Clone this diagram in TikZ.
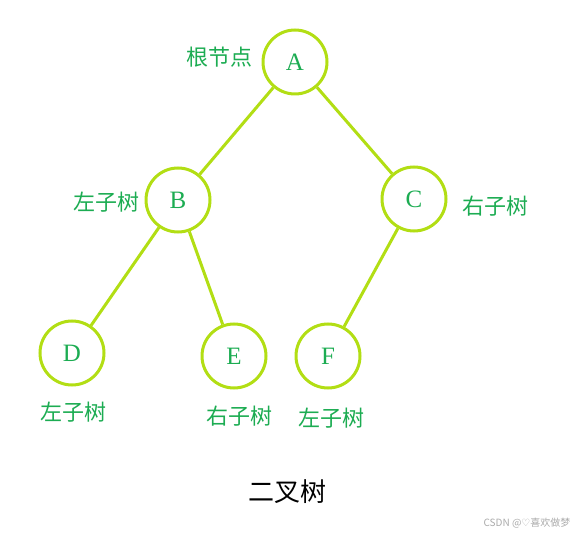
\documentclass[tikz,border=0pt]{standalone}
\usepackage{fontspec}
\usepackage{tikz}
\setmainfont{Liberation Serif}
\newfontfamily\cjk{Noto Sans CJK SC}
\newfontfamily\symf{DejaVu Sans}
\definecolor{leaf}{RGB}{178,222,20}
\definecolor{grn}{RGB}{28,172,82}
\definecolor{mark}{RGB}{170,170,170}
\tikzset{
  tnode/.style ={circle, draw=leaf, line width=3pt, minimum size=64pt,
                 inner sep=0pt, text=grn, font=\fontsize{25}{25}\selectfont},
  lbl/.style   ={text=grn, font=\cjk\fontsize{22}{22}\selectfont, inner sep=0pt},
  br/.style    ={draw=leaf, line width=3pt},
}
\begin{document}
\begin{tikzpicture}[x=1pt,y=-1pt]
\useasboundingbox (0,0) rectangle (583,534);
% tree
\node[tnode] (a) at (295,62) {A};
\node[tnode] (b) at (178,200) {B};
\node[tnode] (c) at (414,199) {C};
\node[tnode] (d) at (72,353) {D};
\node[tnode] (e) at (234,356) {E};
\node[tnode] (f) at (328,356) {F};
\draw[br] (a)--(b); \draw[br] (a)--(c);
\draw[br] (b)--(d); \draw[br] (b)--(e);
\draw[br] (c)--(f);
% labels
\node[lbl] (ra) at (219,57) {根节点};
\node[lbl] (lb) at (106,202) {左子树};
\node[lbl] (rc) at (495,206) {右子树};
\node[lbl] (ld) at (73,412) {左子树};
\node[lbl] (re) at (239,416) {右子树};
\node[lbl] (lf) at (331,418) {左子树};
\node[font=\cjk\fontsize{26}{26}\selectfont] (title) at (287,492) {二叉树};
\node[text=mark, font=\cjk\fontsize{10}{10}\selectfont, inner sep=0pt] (wm) at (527,523)
  {CSDN @{\symf ♡}喜欢做梦};
\end{tikzpicture}
\end{document}
